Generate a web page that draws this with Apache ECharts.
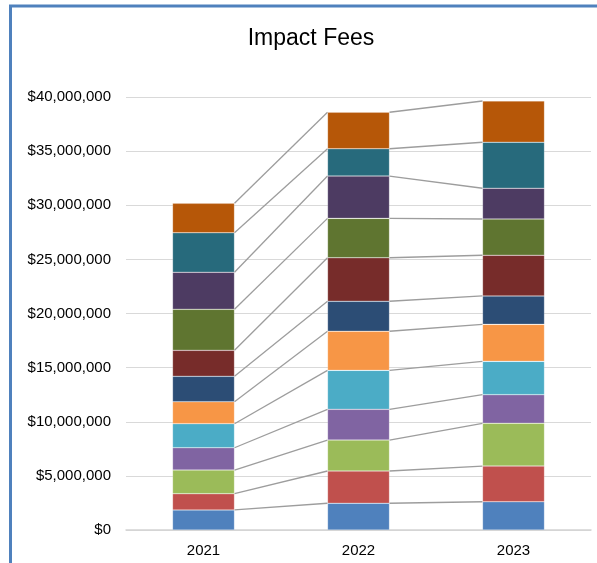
<!DOCTYPE html>
<html>
<head>
<meta charset="utf-8">
<title>Impact Fees</title>
<script src="https://cdn.jsdelivr.net/npm/echarts@6/dist/echarts.min.js"></script>
<style>
html, body {margin:0; padding:0; background:#fff;}
#chart {width:597px; height:563px;}
</style>
</head>
<body>
<div id="chart"></div>
<script>
// categories
var years = ['2021', '2022', '2023'];
// y-axis ticks
var yMin = 0, yMax = 40000000, yStep = 5000000;

// stacked layers, bottom to top
var fee1 = [1850000, 2470000, 2610000];
var fee2 = [1500000, 2980000, 3300000];
var fee3 = [2190000, 2860000, 3950000];
var fee4 = [2060000, 2840000, 2640000];
var fee5 = [2220000, 3600000, 3080000];
var fee6 = [2030000, 3610000, 3420000];
var fee7 = [2350000, 2770000, 2620000];
var fee8 = [2400000, 4020000, 3760000];
var fee9 = [3790000, 3640000, 3350000];
var fee10 = [3420000, 3910000, 2840000];
var fee11 = [3650000, 2520000, 4250000];
var fee12 = [2720000, 3370000, 3810000];

var layers = [fee1, fee2, fee3, fee4, fee5, fee6, fee7, fee8, fee9, fee10, fee11, fee12];
var colors = ['#4f81bd', '#c0504d', '#9bbb59', '#8064a2', '#4bacc6', '#f79646',
              '#2c4d75', '#772c2a', '#5f7530', '#4d3b62', '#276a7c', '#b65708'];

function money(v){
    return '$' + String(v).replace(/\B(?=(\d{3})+(?!\d))/g, ',');
}

var chart = echarts.init(document.getElementById('chart'));

/* series lines: top of each layer, from one bar to the next */
var lineData = [];
var cum = years.map(function(){return 0;});
for(var k=0; k<layers.length; k++){
    for(var i=0; i<years.length; i++){cum[i] += layers[k][i];}
    for(var j=0; j<years.length-1; j++){lineData.push([j, cum[j], cum[j+1]]);}
}

var series = layers.map(function(d, k){
    return {
        name: 'Fee ' + (k+1),
        type: 'bar',
        stack: 'fees',
        barWidth: '40%',
        data: d,
        itemStyle: {color: colors[k], borderColor: 'rgba(255,255,255,0.35)', borderWidth: 0.6},
        z: 3
    };
});

series.push({
    type: 'custom',
    name: 'series lines',
    silent: true,
    z: 2,
    encode: {x: 0, y: 1},
    data: lineData,
    renderItem: function(params, api){
        var half = api.size([1, 0])[0] * 0.2;
        var p0 = api.coord([api.value(0), api.value(1)]);
        var p1 = api.coord([api.value(0) + 1, api.value(2)]);
        return {
            type: 'line',
            shape: {x1: p0[0] + half, y1: p0[1], x2: p1[0] - half, y2: p1[1]},
            style: {stroke: '#9d9d9d', lineWidth: 1.3}
        };
    }
});

var option = {
    animation: false,
    title: {
        text: 'Impact Fees',
        left: 306, top: 22, textAlign: 'center',
        textStyle: {fontFamily: 'Liberation Sans', fontSize: 23, fontWeight: 'normal', color: '#000'}
    },
    grid: {left: 126, right: 6, top: 97, bottom: 33},
    xAxis: {
        type: 'category',
        data: years,
        axisTick: {show: false},
        axisLine: {show: true, lineStyle: {color: '#d4d4d4', width: 1.5}},
        axisLabel: {margin: 13, color: '#000', fontFamily: 'Liberation Sans', fontSize: 15}
    },
    yAxis: {
        type: 'value',
        min: yMin, max: yMax, interval: yStep,
        axisLine: {show: false},
        axisTick: {show: false},
        splitLine: {show: true, lineStyle: {color: '#d9d9d9', width: 1}},
        axisLabel: {margin: 15, color: '#000', fontFamily: 'Liberation Sans', fontSize: 15, formatter: money}
    },
    graphic: [
        {type: 'line', shape: {x1: 9, y1: 6, x2: 597, y2: 6}, style: {stroke: '#4f81bd', lineWidth: 3}},
        {type: 'line', shape: {x1: 10.5, y1: 5, x2: 10.5, y2: 563}, style: {stroke: '#4f81bd', lineWidth: 3}}
    ],
    series: series
};
chart.setOption(option);
</script>
</body>
</html>
